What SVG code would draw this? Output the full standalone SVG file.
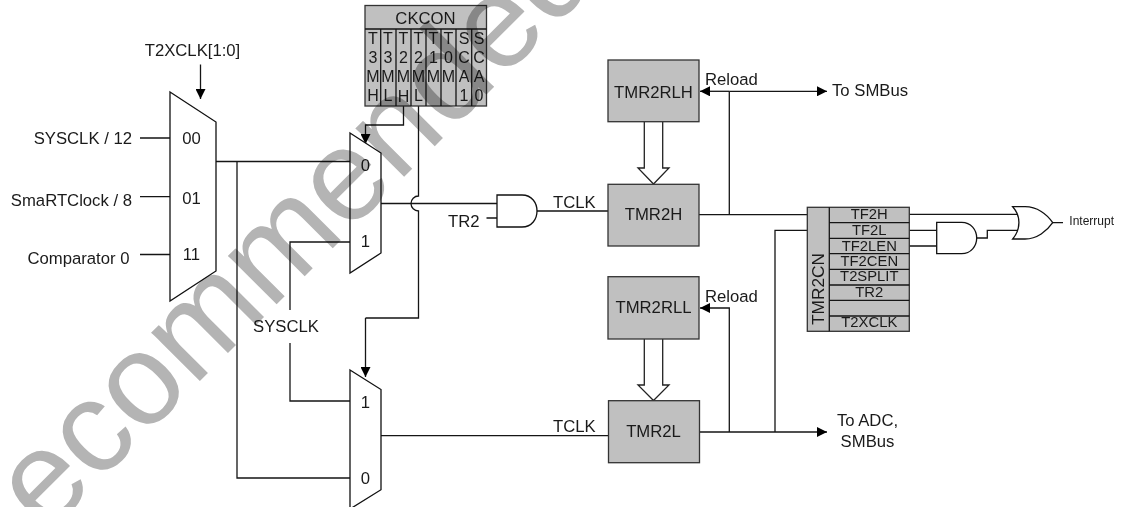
<svg xmlns="http://www.w3.org/2000/svg" width="1124" height="507" viewBox="0 0 1124 507">
<style>
text{font-family:"Liberation Sans",Arial,sans-serif;font-size:16.7px;fill:#1a1a1a}
.m{text-anchor:middle}
.e{text-anchor:end}
.b{font-size:14.8px}
.c{font-size:16px}
.w{font-size:130px;fill:#b4b4b4;mix-blend-mode:multiply}
.n{fill:#fff;stroke:#111;stroke-width:1.3}
.g{fill:#c0c0c0;stroke:#333;stroke-width:1.3}
.l{fill:none;stroke:#151515;stroke-width:1.3}
.h{fill:#fff;stroke:#222;stroke-width:1.3}
</style>
<defs>
<marker id="a" markerUnits="userSpaceOnUse" markerWidth="10" markerHeight="10" refX="10" refY="5" orient="auto"><path d="M0,0L10,5L0,10Z" fill="#000"/></marker>
</defs>
<rect width="1124" height="507" fill="#fff"/>
<g id="connectors">
<path class="l" d="M140,138H170M140,196.7H170M140,254.5H170"/>
<path class="l" d="M216,161.5H352M237,161.5V478H350"/>
<path class="l" d="M350,242H290V310M290,343V401H350"/>
<path class="l" d="M381,203.5H497"/>
<path class="l" d="M486.5,218H497M537,211H608M381,435.7H608"/>
<path class="l" d="M418.5,106V196A7.5,7.5 0 0 0 418.5,211V318H365.5"/>
<path class="l" d="M365.5,318V377" marker-end="url(#a)"/>
<path class="l" d="M403.5,106V125H365.5V144" marker-end="url(#a)"/>
<path class="l" d="M200.5,64.5V99" marker-end="url(#a)"/>
<path class="l" d="M729.3,91.3H700" marker-end="url(#a)"/>
<path class="l" d="M729.3,91.3H827" marker-end="url(#a)"/>
<path class="l" d="M729.3,91.3V214.7"/>
<path class="l" d="M699,214.7H827" marker-end="url(#a)"/>
<path class="l" d="M775,432V230.3H827" marker-end="url(#a)"/>
<path class="l" d="M729.3,432V308H700" marker-end="url(#a)"/>
<path class="l" d="M700,432H827" marker-end="url(#a)"/>
<path class="l" d="M909,214.3H1017M909,230.3H936.7M909,246H936.7M976.7,238H987.3V230.3H1017M1052.7,222.7H1063"/>
<path class="h" d="M644.3,122V168H638L653.5,184L669,168H662.7V122"/>
<path class="h" d="M644.3,339V385H638L653.5,400.5L669,385H662.7V339"/>
</g>
<g id="t2xclk-label"><text class="m" x="192.5" y="55.6">T2XCLK[1:0]</text></g>
<g id="inputs">
<text class="e" x="132" y="144">SYSCLK / 12</text>
<text class="e" x="132" y="206">SmaRTClock / 8</text>
<text class="e" x="129.5" y="264">Comparator 0</text>
</g>
<g id="mux1"><path class="n" d="M170,92L216,122V271L170,301Z"/>
<text class="m" x="191.5" y="144">00</text><text class="m" x="191.5" y="204">01</text><text class="m" x="191.5" y="260">11</text></g>
<g id="mux2"><path class="n" d="M350,133L381,153V253L350,273Z"/>
<text class="m" x="365.5" y="170.5">0</text><text class="m" x="365.5" y="246.5">1</text></g>
<g id="mux3"><path class="n" d="M350,370L381,389.5V489.7L350,509Z"/>
<text class="m" x="365.5" y="407.5">1</text><text class="m" x="365.5" y="484">0</text></g>
<g id="sysclk"><text class="m" x="286" y="332">SYSCLK</text></g>
<g id="ckcon">
<rect class="g" x="365" y="5.5" width="121.5" height="100.5"/>
<path class="l" d="M365,29H486.5M380.7,29V106M396,29V106M411,29V106M426,29V106M441,29V106M456,29V106M471.7,29V106"/>
<text class="m" x="425.5" y="23.5">CKCON</text>
<text class="m c" x="373" y="43.5">T</text><text class="m c" x="373" y="62.5">3</text><text class="m c" x="373" y="82">M</text><text class="m c" x="373" y="101">H</text>
<text class="m c" x="388" y="43.5">T</text><text class="m c" x="388" y="62.5">3</text><text class="m c" x="388" y="82">M</text><text class="m c" x="388" y="101">L</text>
<text class="m c" x="403.5" y="43.5">T</text><text class="m c" x="403.5" y="62.5">2</text><text class="m c" x="403.5" y="82">M</text><text class="m c" x="403.5" y="101.5">H</text>
<text class="m c" x="418.5" y="43.5">T</text><text class="m c" x="418.5" y="62.5">2</text><text class="m c" x="418.5" y="82">M</text><text class="m c" x="418.5" y="101">L</text>
<text class="m c" x="433.5" y="43.5">T</text><text class="m c" x="433.5" y="62.5">1</text><text class="m c" x="433.5" y="82">M</text>
<text class="m c" x="448.5" y="43.5">T</text><text class="m c" x="448.5" y="62.5">0</text><text class="m c" x="448.5" y="82">M</text>
<text class="m c" x="464" y="43.5">S</text><text class="m c" x="464" y="62.5">C</text><text class="m c" x="464" y="82">A</text><text class="m c" x="464" y="101">1</text>
<text class="m c" x="479" y="43.5">S</text><text class="m c" x="479" y="62.5">C</text><text class="m c" x="479" y="82">A</text><text class="m c" x="479" y="101">0</text>
</g>
<g id="and1"><path class="n" d="M497,195H522C532,195 537,203 537,211C537,219 532,227 522,227H497Z"/>
<text x="448" y="226.7">TR2</text>
<text x="553" y="207.7">TCLK</text></g>
<g id="tmr2rlh"><rect class="g" x="608" y="60" width="91" height="61.7"/><text class="m" x="653.5" y="97.6">TMR2RLH</text></g>
<g id="tmr2h"><rect class="g" x="608" y="184.3" width="91" height="61.7"/><text class="m" x="653.5" y="220">TMR2H</text></g>
<g id="tmr2rll"><rect class="g" x="608" y="276.7" width="91" height="62.3"/><text class="m" x="653.5" y="313">TMR2RLL</text></g>
<g id="tmr2l"><rect class="g" x="608.5" y="400.7" width="91" height="62"/><text class="m" x="653.5" y="437">TMR2L</text></g>
<g id="labels">
<text x="705" y="85">Reload</text>
<text x="705" y="302">Reload</text>
<text x="553" y="431.7">TCLK</text>
<text x="832" y="96">To SMBus</text>
<text class="m" x="867.5" y="426">To ADC,</text>
<text class="m" x="867.5" y="446.5">SMBus</text>
</g>
<g id="tmr2cn">
<rect class="g" x="807.3" y="207.3" width="102" height="124"/>
<path class="l" d="M829.3,207.3V331.3M829.3,222.7H909.3M829.3,238.3H909.3M829.3,253.7H909.3M829.3,269.3H909.3M829.3,285H909.3M829.3,300.3H909.3M829.3,316H909.3"/>
<text class="m b" x="869.3" y="219.3">TF2H</text>
<text class="m b" x="869.3" y="235">TF2L</text>
<text class="m b" x="869.3" y="251">TF2LEN</text>
<text class="m b" x="869.3" y="265.7">TF2CEN</text>
<text class="m b" x="869.3" y="281.3">T2SPLIT</text>
<text class="m b" x="869.3" y="296.7">TR2</text>
<text class="m b" x="869.3" y="327.3">T2XCLK</text>
<text transform="translate(824,325) rotate(-90)" style="font-size:17.3px">TMR2CN</text>
</g>
<g id="and2"><path class="n" d="M936.7,222.3H961.7C971,222.3 976.7,230 976.7,238C976.7,246 971,253.7 961.7,253.7H936.7Z"/></g>
<g id="or1"><path class="n" d="M1012.7,206.7H1025C1037,206.7 1047,214 1052.7,222.7C1047,231 1037,239 1025,239H1012.7C1021,229 1021,216 1012.7,206.7Z"/>
<text x="1069.3" y="225" style="font-size:12px">Interrupt</text></g>
<text class="w" transform="translate(-21,602) rotate(-45)">Recommended</text>
</svg>
